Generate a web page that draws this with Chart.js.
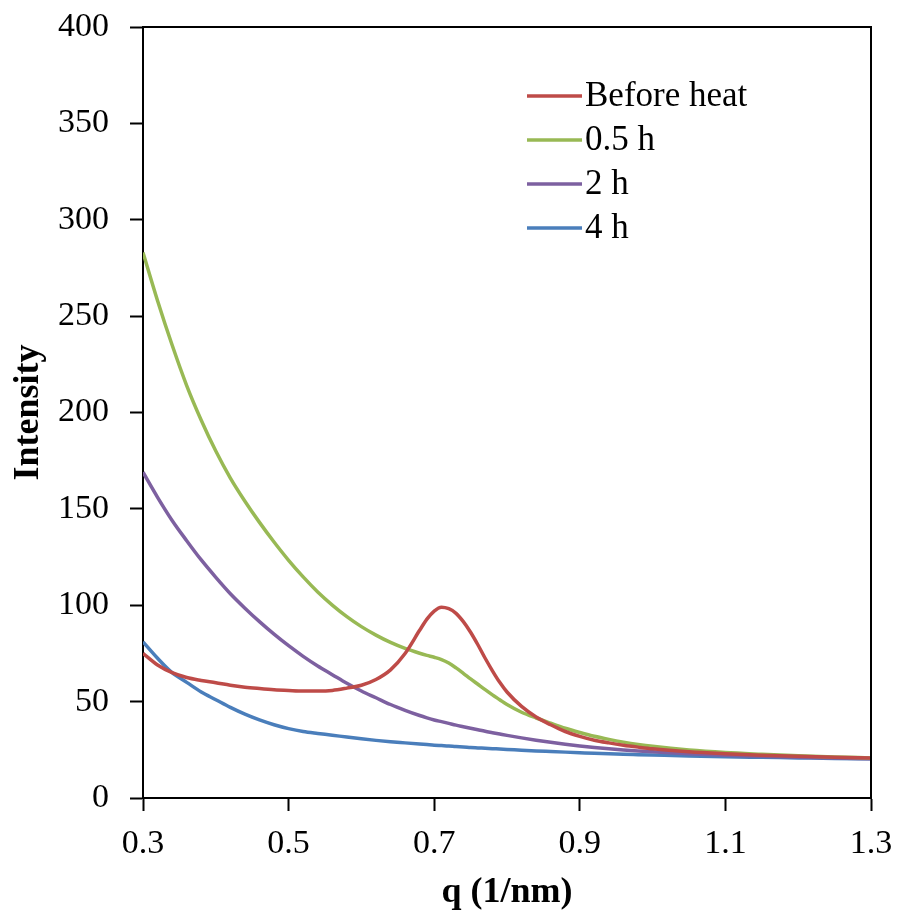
<!DOCTYPE html>
<html>
<head>
<meta charset="utf-8">
<script src="https://cdn.jsdelivr.net/npm/chart.js@4/dist/chart.umd.min.js"></script>
<style>
  html, body { margin: 0; padding: 0; background: #ffffff; }
  #wrap { width: 899px; height: 919px; }
</style>
</head>
<body>
<div id="wrap"><canvas id="c" width="899" height="919"></canvas></div>
<script>
// Scattering vector q (1/nm)
const q = [0.30, 0.32, 0.34, 0.36, 0.38, 0.40, 0.42, 0.44, 0.46, 0.48,
           0.50, 0.52, 0.54, 0.56, 0.58, 0.60, 0.62, 0.64, 0.66, 0.68,
           0.69, 0.70, 0.71, 0.72, 0.73, 0.74, 0.75, 0.76, 0.77, 0.78,
           0.79, 0.80, 0.82, 0.84, 0.86, 0.88, 0.90, 0.92, 0.94, 0.96,
           0.98, 1.00, 1.05, 1.10, 1.15, 1.20, 1.25, 1.30];

const beforeHeat = [75, 69, 65, 62.5, 61, 59.8, 58.5, 57.5, 56.8, 56.2,
                    55.8, 55.5, 55.5, 55.8, 57, 58.5, 61.5, 66.5, 75, 87,
                    92.8, 97, 99, 98.2, 95.8, 91.5, 86, 79.5, 72.5, 66,
                    60, 55, 47.5, 42, 38, 34.5, 32, 30, 28.6, 27.4,
                    26.4, 25.5, 24, 23, 22.2, 21.6, 21.1, 20.7];

const halfHour = [283, 258, 235, 214, 196, 180, 166, 154, 143, 132.8,
                  123.3, 114.7, 106.9, 100.1, 94.1, 88.9, 84.5, 80.7, 77.6, 75.1,
                  74, 73, 71.8, 70, 67.5, 64.7, 61.8, 59, 56.2, 53.5,
                  51, 48.5, 44.5, 41.5, 38.8, 36.2, 34, 32, 30.4, 29,
                  27.8, 26.8, 24.9, 23.6, 22.7, 21.9, 21.3, 20.8];

const twoHours = [169, 156, 144, 133.5, 123.5, 114.5, 106, 98.5, 91.5, 85,
                  79, 73.5, 68.5, 64, 59.5, 55.5, 52, 48.5, 45.5, 42.8,
                  41.6, 40.5, 39.6, 38.7, 37.8, 37, 36.2, 35.4, 34.6, 33.9,
                  33.2, 32.5, 31.2, 30, 28.9, 27.9, 27, 26.2, 25.5, 24.9,
                  24.4, 24, 23, 22.2, 21.6, 21.1, 20.7, 20.4];

const fourHours = [81, 72.5, 65, 60, 55, 51, 47, 43.5, 40.5, 38,
                   36, 34.5, 33.5, 32.6, 31.6, 30.7, 29.9, 29.2, 28.6, 28,
                   27.7, 27.4, 27.2, 27, 26.7, 26.5, 26.2, 26, 25.8, 25.6,
                   25.4, 25.2, 24.8, 24.4, 24.1, 23.8, 23.5, 23.2, 23, 22.7,
                   22.5, 22.3, 21.8, 21.4, 21.1, 20.8, 20.5, 20.3];

const seriesLabels = ['Before heat', '0.5 h', '2 h', '4 h'];
const seriesColors = ['#BE4B48', '#98B954', '#7D60A0', '#4A7EBB'];
const seriesValues = [beforeHeat, halfHour, twoHours, fourHours];

const xTicks = [0.3, 0.5, 0.7, 0.9, 1.1, 1.3];
const yTicks = [0, 50, 100, 150, 200, 250, 300, 350, 400];

const FONT = '"Liberation Serif", "Times New Roman", serif';

const datasets = seriesValues.map((vals, i) => ({
  label: seriesLabels[i],
  data: q.map((x, k) => ({ x: x, y: vals[k] })),
  borderColor: seriesColors[i],
  backgroundColor: seriesColors[i],
  borderWidth: 3.5,
  pointRadius: 0,
  cubicInterpolationMode: 'monotone',
  fill: false
}));

// Frame around the plot area and an in-plot legend
const framePlugin = {
  id: 'frameAndLegend',
  afterDatasetsDraw(chart) {
    const { ctx, chartArea: a } = chart;
    ctx.save();
    ctx.strokeStyle = '#000000';
    ctx.lineWidth = 2;
    ctx.beginPath();
    ctx.moveTo(a.left, a.top);
    ctx.lineTo(a.right, a.top);
    ctx.lineTo(a.right, a.bottom);
    ctx.stroke();

    const x0 = 527;
    const rowTop = 96;
    const rowGap = 44;
    ctx.font = '35px ' + FONT;
    ctx.textBaseline = 'middle';
    ctx.textAlign = 'left';
    chart.data.datasets.forEach((ds, i) => {
      const y = rowTop + i * rowGap;
      ctx.strokeStyle = ds.borderColor;
      ctx.lineWidth = 3.5;
      ctx.beginPath();
      ctx.moveTo(x0, y);
      ctx.lineTo(x0 + 55, y);
      ctx.stroke();
      ctx.fillStyle = '#000000';
      ctx.fillText(ds.label, x0 + 58, y + 1);
    });
    ctx.restore();
  }
};

new Chart(document.getElementById('c'), {
  type: 'line',
  data: { datasets: datasets },
  options: {
    responsive: false,
    animation: false,
    layout: { padding: { left: 0, right: 28, top: 27, bottom: 0 } },
    plugins: {
      legend: { display: false },
      tooltip: { enabled: false }
    },
    scales: {
      x: {
        type: 'linear',
        min: 0.3,
        max: 1.3,
        afterBuildTicks: (scale) => { scale.ticks = xTicks.map(v => ({ value: v })); },
        afterFit: (scale) => { scale.height = 121; scale.paddingLeft = 0; scale.paddingRight = 0; },
        ticks: {
          color: '#000000',
          font: { family: FONT, size: 34 },
          padding: 13,
          maxRotation: 0,
          autoSkip: false,
          callback: (v) => Number(v).toFixed(1)
        },
        grid: {
          display: true,
          drawOnChartArea: false,
          drawTicks: true,
          tickLength: 13,
          tickColor: '#000000',
          tickWidth: 2
        },
        border: { display: true, color: '#000000', width: 2 },
        title: {
          display: true,
          text: 'q (1/nm)',
          color: '#000000',
          font: { family: FONT, size: 36, weight: 'bold' },
          padding: { top: 0, bottom: 5 }
        }
      },
      y: {
        type: 'linear',
        min: 0,
        max: 400,
        afterBuildTicks: (scale) => { scale.ticks = yTicks.map(v => ({ value: v })); },
        afterFit: (scale) => { scale.width = 143; scale.paddingTop = 0; scale.paddingBottom = 0; },
        ticks: {
          color: '#000000',
          font: { family: FONT, size: 34 },
          padding: 21,
          autoSkip: false
        },
        grid: {
          display: true,
          drawOnChartArea: false,
          drawTicks: true,
          tickLength: 13,
          tickColor: '#000000',
          tickWidth: 2
        },
        border: { display: true, color: '#000000', width: 2 },
        title: {
          display: true,
          text: 'Intensity',
          color: '#000000',
          font: { family: FONT, size: 36, weight: 'bold' },
          padding: { top: 7, bottom: 0 }
        }
      }
    }
  },
  plugins: [framePlugin]
});
</script>
</body>
</html>
